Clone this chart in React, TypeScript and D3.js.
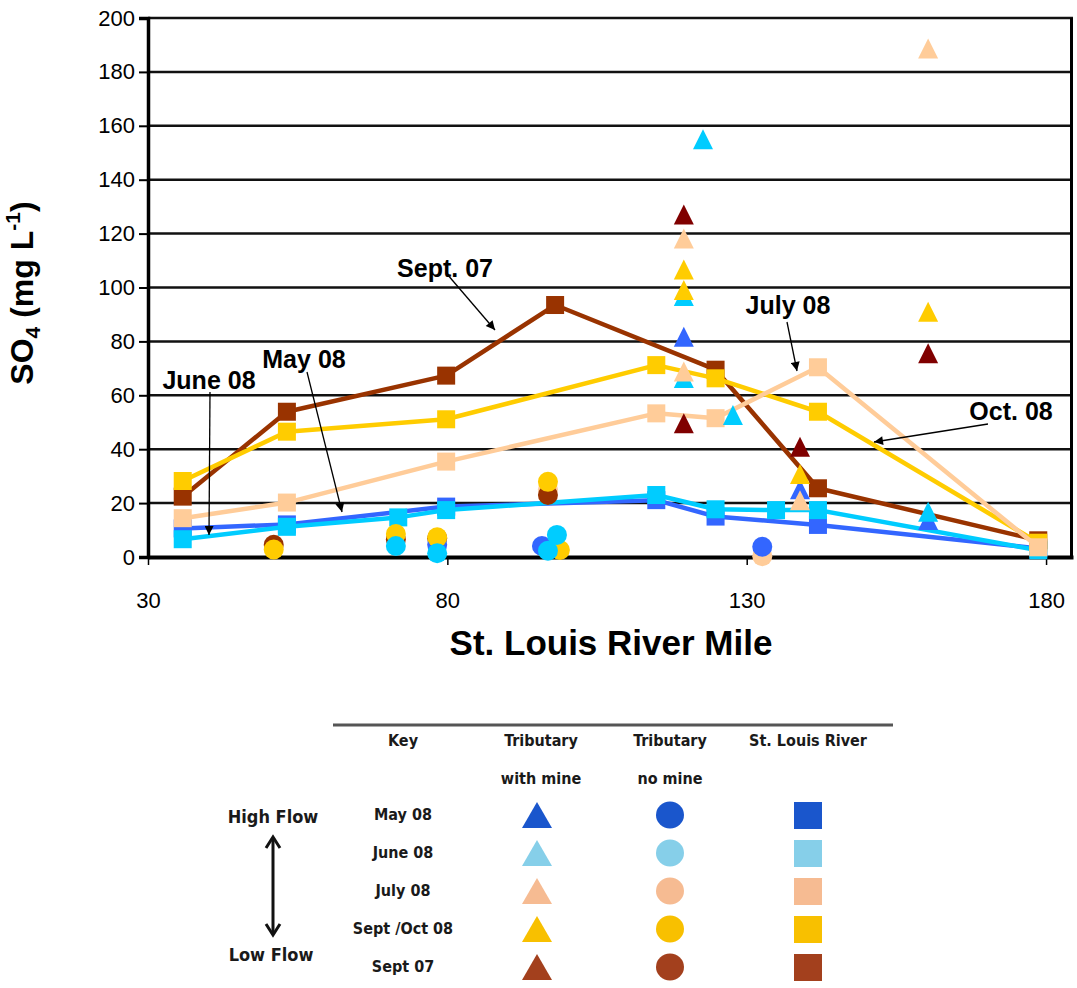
import * as d3 from "d3";
import { useEffect, useRef } from "react";

// St. Louis River main stem (squares + line): [river mile, SO4 mg/L]
const riverMay08 = [[35.8, 10.6], [53.2, 12.1], [79.8, 18.7], [114.9, 21.1], [124.8, 15], [141.9, 11.9], [178.7, 3.2]];
const riverJune08 = [[35.8, 6.6], [53.2, 11.2], [71.8, 14.7], [79.8, 17.4], [114.9, 23], [124.8, 17.7], [134.9, 17.4], [141.9, 17.4], [178.7, 2.5]];
const riverSept07 = [[35.8, 22.4], [53.2, 53.9], [79.8, 67.3], [98, 93.5], [124.8, 69.5], [141.9, 25.5], [178.7, 6.2]];
const riverSeptOct08 = [[35.8, 28.2], [53.2, 46.5], [79.8, 51.1], [114.9, 71.2], [124.8, 66.3], [141.9, 53.9], [178.7, 5.3]];
const riverJuly08 = [[35.8, 14.4], [53.2, 20.2], [79.8, 35.4], [114.9, 53.3], [124.8, 51.5], [141.9, 70.4], [178.7, 3.6]];

// tributaries with mine (triangles)
const mineMay08 = [[119.5, 81.7], [138.9, 25.1], [160.3, 13.7]];
const mineJune08 = [[119.5, 96.8], [119.5, 66.4], [122.7, 155], [127.7, 52.7], [160.3, 16.8]];
const mineJuly08 = [[119.5, 118.2], [119.5, 68.8], [138.9, 21.1], [160.3, 188.7]];
const mineSeptOct08 = [[119.5, 106.7], [119.5, 99.1], [138.9, 30.8], [160.3, 91]];
const mineSept07 = [[119.5, 127.1], [119.5, 49.6], [138.9, 40.9], [160.3, 75.6]];

// tributaries no mine (circles)
const noMineJuly08 = [[96.8, 25.1], [132.6, 0.3]];
const noMineSept07 = [[51, 4.5], [71.4, 6.5], [78.3, 7], [96.8, 23]];
const noMineMay08 = [[78.3, 4.5], [95.8, 4.1], [132.6, 3.8]];
const noMineSeptOct08 = [[51, 2.8], [71.4, 8.5], [78.3, 7.3], [96.8, 27.9], [98.8, 2.6]];
const noMineJune08 = [[71.4, 4.1], [78.3, 1.4], [96.8, 2.3], [98.3, 8.2]];

const xTicks = [30, 80, 130, 180];
const yTicks = [0, 20, 40, 60, 80, 100, 120, 140, 160, 180, 200];

const legendRows = ["May 08", "June 08", "July 08", "Sept /Oct 08", "Sept 07"];
const legendColors = ["#1a56cc", "#86cfe9", "#f6bb92", "#f8c000", "#a3401d"];

const FONT = "Arial, 'Liberation Sans', sans-serif";

const App = () => {
  const ref = useRef(null);

  useEffect(() => {
    const svg = d3.select(ref.current);
    svg.selectAll("*").remove();

    const margin = { top: 18, right: 4, left: 148 };
    const plotBottom = 557;
    const plotRight = 1077 - margin.right;

    const x = d3.scaleLinear().domain([30, 184.5]).range([margin.left, plotRight]);
    const y = d3.scaleLinear().domain([0, 200]).range([plotBottom, margin.top]);

    const defs = svg.append("defs");
    defs.append("marker")
      .attr("id", "arr")
      .attr("viewBox", "0 0 10 10")
      .attr("refX", 10).attr("refY", 5)
      .attr("markerWidth", 11).attr("markerHeight", 9)
      .attr("markerUnits", "userSpaceOnUse")
      .attr("orient", "auto")
      .append("path").attr("d", "M0,0 L10,5 L0,10 Z").attr("fill", "#000");

    // gridlines
    svg.append("g")
      .selectAll("line")
      .data(yTicks.filter(t => t > 0))
      .enter()
      .append("line")
        .attr("x1", margin.left).attr("x2", plotRight)
        .attr("y1", d => y(d)).attr("y2", d => y(d))
        .attr("stroke", "#111").attr("stroke-width", 2.5);

    // right border
    svg.append("line")
      .attr("x1", plotRight - 1.5).attr("x2", plotRight - 1.5)
      .attr("y1", margin.top).attr("y2", plotBottom)
      .attr("stroke", "#000").attr("stroke-width", 3);

    // y axis
    const yAxis = svg.append("g")
      .attr("transform", `translate(${margin.left},0)`)
      .call(d3.axisLeft(y).tickValues(yTicks).tickSize(9).tickPadding(4));
    yAxis.select(".domain").attr("stroke-width", 3.5);
    yAxis.selectAll("line").attr("stroke-width", 2);
    yAxis.selectAll("text")
      .attr("font-family", FONT)
      .attr("font-size", 22)
      .attr("fill", "#000");

    // x axis
    const xAxis = svg.append("g")
      .attr("transform", `translate(0,${plotBottom})`)
      .call(d3.axisBottom(x).tickValues(xTicks).tickSize(8).tickSizeOuter(0).tickPadding(27));
    xAxis.select(".domain").attr("stroke-width", 4);
    xAxis.selectAll("line").attr("stroke-width", 1.5);
    xAxis.selectAll("text")
      .attr("font-family", FONT)
      .attr("font-size", 22)
      .attr("fill", "#000");

    // axis titles
    svg.append("text")
      .attr("x", 611).attr("y", 655)
      .attr("text-anchor", "middle")
      .attr("font-family", FONT)
      .attr("font-weight", "bold").attr("font-size", 35)
      .text("St. Louis River Mile");

    const yt = svg.append("text")
      .attr("transform", "translate(33,293) rotate(-90)")
      .attr("text-anchor", "middle")
      .attr("font-family", FONT)
      .attr("font-weight", "bold").attr("font-size", 32);
    yt.append("tspan").text("SO");
    yt.append("tspan").attr("font-size", 21).attr("dy", 7).text("4");
    yt.append("tspan").attr("dy", -7).text(" (mg L");
    yt.append("tspan").attr("font-size", 21).attr("dy", -13).text("-1");
    yt.append("tspan").attr("dy", 13).text(")");

    // river lines + squares
    const line = d3.line().x(d => x(d[0])).y(d => y(d[1]));
    const riverSeries = [
      { data: riverMay08, color: "#3366FF" },
      { data: riverJune08, color: "#00CCFF" },
      { data: riverSept07, color: "#993300" },
      { data: riverSeptOct08, color: "#FFCC00" },
      { data: riverJuly08, color: "#FFCC99" },
    ];
    riverSeries.forEach(s => {
      const g = svg.append("g");
      g.append("path")
        .attr("d", line(s.data))
        .attr("fill", "none")
        .attr("stroke", s.color)
        .attr("stroke-width", 4.5)
        .attr("stroke-linejoin", "round");
      g.selectAll("rect")
        .data(s.data)
        .enter()
        .append("rect")
          .attr("x", d => x(d[0]) - 9)
          .attr("y", d => y(d[1]) - 9)
          .attr("width", 18).attr("height", 18)
          .attr("fill", s.color);
    });

    // circles
    const circleSeries = [
      { data: noMineJuly08, color: "#FFCC99" },
      { data: noMineSept07, color: "#993300" },
      { data: noMineMay08, color: "#3366FF" },
      { data: noMineSeptOct08, color: "#FFCC00" },
      { data: noMineJune08, color: "#00CCFF" },
    ];
    circleSeries.forEach(s => {
      svg.append("g")
        .selectAll("circle")
        .data(s.data)
        .enter()
        .append("circle")
          .attr("cx", d => x(d[0]))
          .attr("cy", d => y(d[1]))
          .attr("r", 10)
          .attr("fill", s.color);
    });

    // triangles
    const triSeries = [
      { data: mineMay08, color: "#3366FF" },
      { data: mineJune08, color: "#00CCFF" },
      { data: mineJuly08, color: "#FFCC99" },
      { data: mineSeptOct08, color: "#FFCC00" },
      { data: mineSept07, color: "#800000" },
    ];
    triSeries.forEach(s => {
      svg.append("g")
        .selectAll("path")
        .data(s.data)
        .enter()
        .append("path")
          .attr("d", "M0,-10 L10,10 L-10,10 Z")
          .attr("transform", d => `translate(${x(d[0])},${y(d[1])})`)
          .attr("fill", s.color);
    });

    // callouts
    const notes = [
      { label: "Sept. 07", tx: 445, ty: 277, x1: 447, y1: 274, x2: 495, y2: 330 },
      { label: "July 08", tx: 788, ty: 314, x1: 787, y1: 322, x2: 797, y2: 371 },
      { label: "Oct. 08", tx: 1011, ty: 420, x1: 988, y1: 424, x2: 874, y2: 442 },
      { label: "June 08", tx: 209, ty: 389, x1: 210, y1: 392, x2: 209, y2: 535 },
      { label: "May 08", tx: 304, ty: 368, x1: 307, y1: 372, x2: 342, y2: 512 },
    ];
    notes.forEach(n => {
      svg.append("line")
        .attr("x1", n.x1).attr("y1", n.y1)
        .attr("x2", n.x2).attr("y2", n.y2)
        .attr("stroke", "#000").attr("stroke-width", 1.3)
        .attr("marker-end", "url(#arr)");
      svg.append("text")
        .attr("x", n.tx).attr("y", n.ty)
        .attr("text-anchor", "middle")
        .attr("font-family", FONT)
        .attr("font-weight", "bold").attr("font-size", 25)
        .text(n.label);
    });

    // key table
    const key = svg.append("g")
      .attr("font-family", "'Liberation Sans Narrow', 'DejaVu Sans Condensed', Arial, sans-serif")
      .attr("font-weight", "bold")
      .attr("font-size", 16)
      .attr("fill", "#1a1a1a")
      .attr("text-anchor", "middle");

    key.append("line")
      .attr("x1", 333).attr("x2", 893)
      .attr("y1", 725).attr("y2", 725)
      .attr("stroke", "#555").attr("stroke-width", 3);

    const colX = [403, 541, 670, 808];
    const header1 = ["Key", "Tributary", "Tributary", "St. Louis River"];
    const header2 = ["", "with mine", "no mine", ""];
    header1.forEach((t, i) => key.append("text").attr("x", colX[i]).attr("y", 746).text(t));
    header2.forEach((t, i) => key.append("text").attr("x", colX[i]).attr("y", 784).text(t));

    const rowY = d3.scalePoint().domain(legendRows).range([815, 967]);
    legendRows.forEach((r, i) => {
      const cy = rowY(r);
      key.append("text").attr("x", colX[0]).attr("y", cy + 5).text(r);
      key.append("path")
        .attr("d", "M0,-13 L15,13 L-15,13 Z")
        .attr("transform", `translate(${colX[1] - 4},${cy})`)
        .attr("fill", legendColors[i]);
      key.append("ellipse")
        .attr("cx", colX[2]).attr("cy", cy)
        .attr("rx", 14).attr("ry", 13.5)
        .attr("fill", legendColors[i]);
      key.append("rect")
        .attr("x", colX[3] - 14).attr("y", cy - 13)
        .attr("width", 28).attr("height", 27)
        .attr("fill", legendColors[i]);
    });

    key.append("text").attr("x", 273).attr("y", 823).attr("font-size", 18).text("High Flow");
    key.append("text").attr("x", 271).attr("y", 961).attr("font-size", 18).text("Low Flow");
    // double-headed flow arrow
    key.append("line")
      .attr("x1", 273).attr("x2", 273)
      .attr("y1", 838).attr("y2", 934)
      .attr("stroke", "#111").attr("stroke-width", 3);
    key.append("path")
      .attr("d", "M266,848 L273,837 L280,848 M266,924 L273,935 L280,924")
      .attr("fill", "none")
      .attr("stroke", "#111").attr("stroke-width", 3)
      .attr("stroke-linejoin", "miter");
  }, []);

  return (
    <svg
      ref={ref}
      width={1077}
      height={988}
      style={{ position: "absolute", left: 0, top: 0, background: "#fff" }}
    ></svg>
  );
};

export default App;
